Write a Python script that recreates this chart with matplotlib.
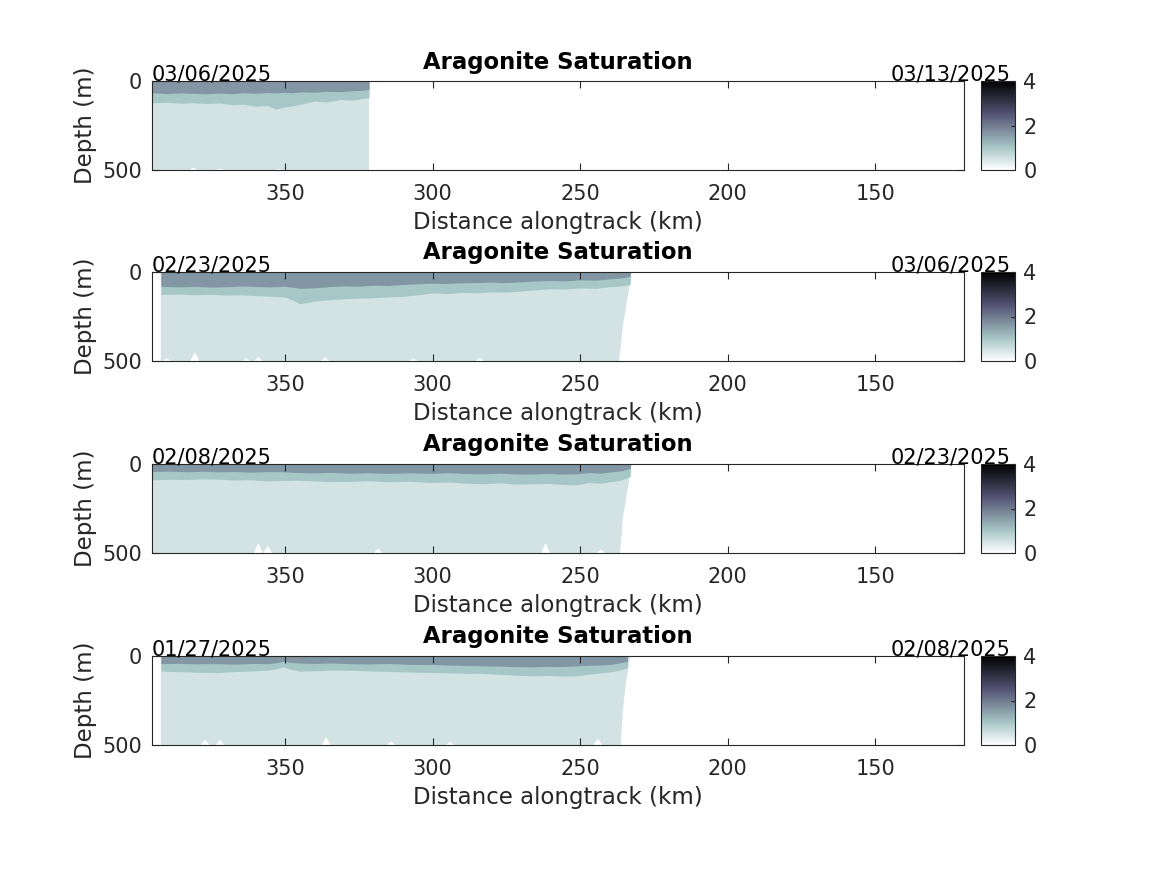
import matplotlib
matplotlib.use('Agg')
import matplotlib.pyplot as plt
import numpy as np
from matplotlib.cm import ScalarMappable
from matplotlib.colors import Normalize

title = 'Aragonite Saturation'
xlab = 'Distance alongtrack (km)'
ylab = 'Depth (m)'
date_start = ['03/06/2025', '02/23/2025', '02/08/2025', '01/27/2025']
date_end = ['03/13/2025', '03/06/2025', '02/23/2025', '02/08/2025']

# along-track distance (km) and depth (m) of the 1.5 and 1.0 saturation contours
dist_1 = [395, 390, 385, 381, 377, 372, 368, 364, 360, 356, 353, 350, 348, 344, 340, 336, 331, 327, 324, 321.5]
sat15_1 = [66, 70, 67, 69, 72, 68, 71, 66, 69, 65, 67, 63, 66, 61, 63, 58, 60, 55, 52, 47]
sat10_1 = [123, 120, 125, 122, 127, 124, 133, 130, 142, 138, 157, 146, 142, 128, 113, 118, 104, 108, 99, 94]

dist_2 = [392, 386, 380, 375, 370, 365, 360, 355, 350, 347, 345, 342, 340, 335, 330, 325, 320, 315, 310,
          305, 300, 295, 290, 285, 280, 275, 270, 265, 260, 255, 250, 245, 240, 236, 233]
sat15_2 = [80, 84, 81, 85, 83, 79, 81, 84, 80, 86, 92, 90, 89, 82, 78, 80, 74, 76, 70,
           66, 63, 65, 61, 59, 57, 60, 55, 51, 48, 50, 44, 46, 39, 33, 24]
sat10_2 = [126, 124, 128, 125, 130, 128, 133, 136, 141, 160, 178, 170, 163, 156, 150, 147, 144, 140, 137,
           128, 118, 121, 115, 117, 111, 113, 107, 100, 94, 96, 89, 92, 83, 78, 70]

dist_3 = [395, 389, 383, 378, 373, 367, 362, 356, 351, 346, 340, 334, 328, 322, 315, 308, 300, 294, 289,
          283, 277, 272, 266, 261, 256, 251, 247, 243, 240, 236, 233]
sat15_3 = [43, 40, 44, 41, 44, 42, 46, 43, 43, 48, 50, 47, 52, 49, 53, 50, 52, 49, 54,
           55, 51, 56, 56, 53, 57, 55, 48, 52, 45, 38, 25]
sat10_3 = [89, 86, 88, 84, 85, 90, 88, 95, 93, 91, 95, 99, 98, 94, 100, 97, 104, 101, 108,
           111, 106, 113, 111, 109, 115, 117, 104, 108, 100, 90, 70]

dist_4 = [392, 386, 380, 373, 367, 361, 356, 353, 350.6, 348, 345, 340, 334, 328, 322, 315, 308, 300,
          294, 289, 283, 277, 272, 266, 261, 256, 251, 246, 240, 237, 234]
sat15_4 = [43, 41, 44, 43, 46, 42, 43, 38, 30, 36, 40, 42, 39, 43, 45, 42, 47, 48,
           51, 53, 55, 57, 60, 61, 58, 60, 55, 52, 48, 40, 30]
sat10_4 = [85, 88, 91, 93, 88, 84, 80, 72, 61, 75, 85, 83, 79, 80, 84, 87, 90, 93,
           95, 97, 98, 103, 108, 111, 109, 113, 111, 100, 89, 80, 67]

# eastern edge of the section (km) at these depths
edge_depth = [0, 50, 150, 300, 500]
edge_1 = [321.5, 321.5, 321.5, 321.5, 321.5]
edge_2 = [232.5, 233, 234, 235.5, 236.8]
edge_3 = [232.5, 233, 234, 235.5, 236.5]
edge_4 = [233, 233.5, 234.5, 235.5, 236.3]

# low-saturation (<0.5) patches at the bottom: distance (km), height above 500 m
spike_km_1 = [381, 372, 352]
spike_h_1 = [12, 8, 6]
spike_km_2 = [390, 380.5, 363, 359, 336.4, 306.5, 284]
spike_h_2 = [15, 50, 15, 22, 20, 15, 18]
spike_km_3 = [359, 355.8, 318.4, 261.7, 243]
spike_h_3 = [55, 40, 25, 55, 20]
spike_km_4 = [377, 372, 336, 314, 294, 244]
spike_h_4 = [30, 28, 45, 20, 18, 35]

dists = [dist_1, dist_2, dist_3, dist_4]
sat15s = [sat15_1, sat15_2, sat15_3, sat15_4]
sat10s = [sat10_1, sat10_2, sat10_3, sat10_4]
edges = [edge_1, edge_2, edge_3, edge_4]
spike_kms = [spike_km_1, spike_km_2, spike_km_3, spike_km_4]
spike_hs = [spike_h_1, spike_h_2, spike_h_3, spike_h_4]

cmap = plt.get_cmap('bone_r')
vmax = 4
c_light = cmap(0.5 / vmax)
c_mid = cmap(1.0 / vmax)
c_dark = cmap(1.65 / vmax)
gray = (0.15, 0.15, 0.15)

W, H = 1167, 875
fig = plt.figure(figsize=(W / 100, H / 100), dpi=100)
plt.rcParams['font.family'] = 'DejaVu Sans'

tops = [81, 272, 464, 656]
ph = 89
for i in range(4):
    ax = fig.add_axes([152 / W, (H - tops[i] - ph) / H, 812 / W, ph / H])
    d = dists[i]
    e = edges[i]
    # light (deep) water
    px = [d[0]] + list(e) + [d[0]]
    py = [0] + list(edge_depth) + [500]
    ax.fill(px, py, color=c_light, lw=0)
    ax.fill_between(d, 0, sat10s[i], color=c_mid, lw=0)
    ax.fill_between(d, 0, sat15s[i], color=c_dark, lw=0)
    for k, h in zip(spike_kms[i], spike_hs[i]):
        ax.fill([k + 1.5, k, k - 1.5], [500, 500 - h, 500], color='white', lw=0)

    ax.set_xlim(395, 120)
    ax.set_ylim(500, 0)
    ax.set_xticks([350, 300, 250, 200, 150])
    ax.set_yticks([0, 500])
    ax.tick_params(direction='in', top=True, right=True, length=5, width=0.8,
                   labelsize=15, colors=gray, labelcolor=gray)
    ax.tick_params(axis='x', pad=10)
    ax.tick_params(axis='y', pad=7)
    for s in ax.spines.values():
        s.set_color(gray)
        s.set_linewidth(0.8)
    ax.set_xlabel(xlab, fontsize=16.5, color=gray, labelpad=5)
    ax.set_ylabel(ylab, fontsize=16.5, color=gray, labelpad=4)
    ax.set_title(title, fontsize=16.4, fontweight='bold', pad=9)
    ax.text(0, 1.005, date_start[i], transform=ax.transAxes, fontsize=15,
            ha='left', va='baseline')
    ax.text(1.057, 1.005, date_end[i], transform=ax.transAxes, fontsize=15,
            ha='right', va='baseline')

    cax = fig.add_axes([981 / W, (H - tops[i] - ph) / H, 34 / W, ph / H])
    cb = fig.colorbar(ScalarMappable(norm=Normalize(0, vmax), cmap=cmap), cax=cax)
    cb.set_ticks([0, 2, 4])
    cb.ax.tick_params(direction='in', length=3, width=0.8, labelsize=15,
                      colors=gray, labelcolor=gray, pad=6)
    cb.outline.set_edgecolor(gray)
    cb.outline.set_linewidth(0.8)

fig.savefig('out.png', dpi=100)
